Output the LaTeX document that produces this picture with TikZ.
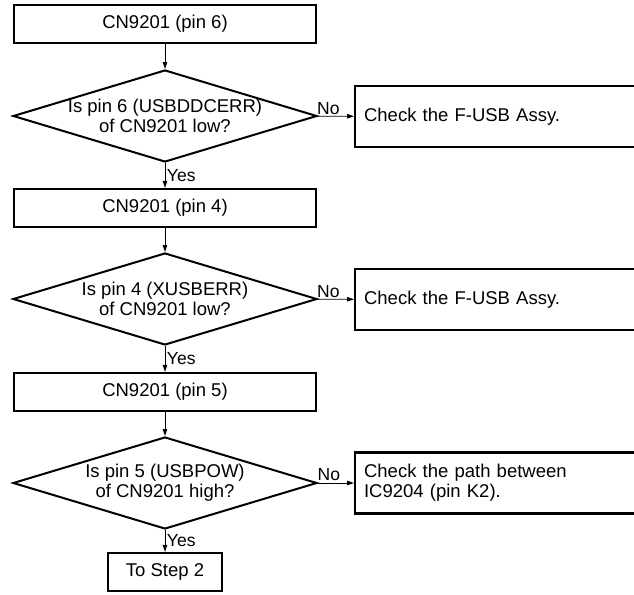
\documentclass[tikz,border=0pt]{standalone}
\usepackage{fontspec}
\setmainfont{Liberation Sans}
\usetikzlibrary{shapes.geometric,arrows.meta}
\begin{document}
\begin{tikzpicture}[x=1pt,y=-1pt,
  mainfont/.style={font=\fontsize{18.5}{20}\selectfont},
  box/.style={draw, line width=2.2pt, minimum width=302pt, minimum height=38pt, inner sep=0pt, mainfont},
  rbox/.style={draw, line width=2.2pt, anchor=west, minimum height=61pt, text width=330pt, inner xsep=9pt, inner ysep=0pt, align=left, mainfont},
  dec/.style={draw, shape=diamond, line width=2pt, minimum width=304pt, minimum height=92pt, inner sep=0pt},
  dtext/.style={align=center, inner sep=0pt, mainfont},
  lab/.style={font=\fontsize{17.5}{19}\selectfont, inner sep=1.5pt},
  arr/.style={line width=0.9pt, -{Triangle[length=7pt,width=4.5pt]}}
]
\clip (0,0) rectangle (634,594);

\node[box] (b1) at (165,24) {CN9201 (pin 6)};
\node[dec] (d1) at (165,116) {};
\node[dtext] (d1t) at (d1) {Is pin 6 (USBDDCERR)\\of CN9201 low?};
\node[rbox] (r1) at (354,116.5) {Check the F-USB Assy.};

\node[box] (b2) at (165,208) {CN9201 (pin 4)};
\node[dec] (d2) at (165,299) {};
\node[dtext] (d2t) at (d2) {Is pin 4 (XUSBERR)\\of CN9201 low?};
\node[rbox] (r2) at (354,299.5) {Check the F-USB Assy.};

\node[box] (b3) at (165,392) {CN9201 (pin 5)};
\node[dec] (d3) at (165,483) {};
\node[dtext] (d3t) at (d3) {Is pin 5 (USBPOW)\\of CN9201 high?};
\node[rbox] (r3) at (354,483) {Check the path between\\IC9204 (pin K2).};

\node[box, minimum width=114pt] (s) at (165,572) {To Step 2};

\draw[arr] (b1) -- (d1);
\draw[arr] (d1) -- node[lab, pos=0.3, above] {No} (r1);
\draw[arr] (d1) -- node[lab, right] {Yes} (b2);
\draw[arr] (b2) -- (d2);
\draw[arr] (d2) -- node[lab, pos=0.3, above] {No} (r2);
\draw[arr] (d2) -- node[lab, right] {Yes} (b3);
\draw[arr] (b3) -- (d3);
\draw[arr] (d3) -- node[lab, pos=0.3, above] {No} (r3);
\draw[arr] (d3) -- node[lab, right] {Yes} (s);
\end{tikzpicture}
\end{document}
